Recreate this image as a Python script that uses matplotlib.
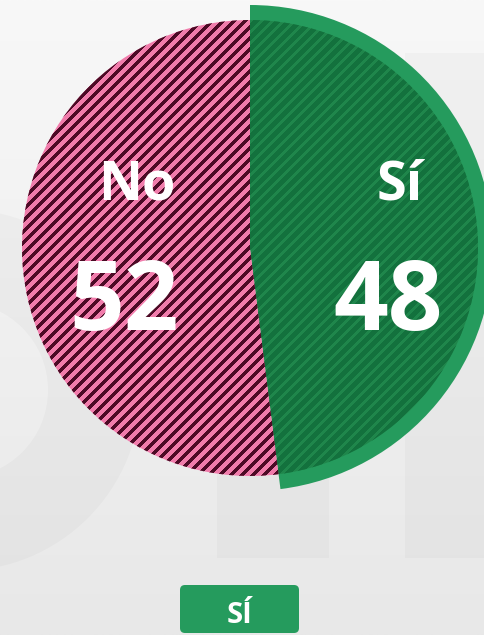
import matplotlib
matplotlib.use('Agg')
import matplotlib.pyplot as plt
import numpy as np
from matplotlib.patches import FancyBboxPatch, Rectangle, Annulus
from matplotlib.collections import LineCollection

# ---- data ----
categories = ['Sí', 'No']
values = [48, 52]
legend_label = 'SÍ'

# ---- styles ----
GREEN = '#259B5D'
GREEN_IN = '#1F864B'
GREEN_STRIPE = '#13713D'
PINK = '#F07CAB'
PINK_STRIPE = '#4C0A25'
FONT = ['Open Sans', 'DejaVu Sans']

W, H = 485, 635
fig = plt.figure(figsize=(W / 100, H / 100), dpi=100)

# background with gradient and faint watermark
ax_bg = fig.add_axes([0, 0, 1, 1])
grad = np.linspace(0, 1, 256).reshape(-1, 1)
top = np.array([248, 248, 248]) / 255
bot = np.array([232, 232, 232]) / 255
img = (top + (bot - top) * grad[..., None]).reshape(256, 1, 3)
ax_bg.imshow(img, extent=(0, W, H, 0), aspect='auto', interpolation='bilinear')
ax_bg.add_patch(Annulus((-40, 390), 181, 93, fc='black', alpha=0.025, lw=0))
ax_bg.add_patch(Rectangle((217, 53), 112, 505, fc='black', alpha=0.025, lw=0))
ax_bg.add_patch(Rectangle((405, 53), 90, 505, fc='black', alpha=0.025, lw=0))
ax_bg.set_xlim(0, W)
ax_bg.set_ylim(H, 0)
ax_bg.axis('off')

# pie axes in pixel units (y up)
cx, cy = 250, 248
ax = fig.add_axes([0, 0, 1, 1])
ax.patch.set_alpha(0)
outer, _ = ax.pie(values, radius=243, startangle=90, counterclock=False,
                  colors=[GREEN, 'none'], wedgeprops=dict(linewidth=0))
inner, _ = ax.pie(values, radius=228, startangle=90, counterclock=False,
                  colors=[GREEN_IN, PINK], wedgeprops=dict(linewidth=0))
ax.set_aspect('auto')
ax.set_xlim(-cx, W - cx)
ax.set_ylim(-(H - cy), cy)
ax.axis('off')

# overlay axes in pixel coords for stripes and text
ax_ov = fig.add_axes([0, 0, 1, 1])
ax_ov.patch.set_alpha(0)
ax_ov.set_xlim(0, W)
ax_ov.set_ylim(H, 0)
ax_ov.axis('off')

period = 11.0
cs = np.arange(-20, W + H + 20, period)
segs = [[(0, c), (W, c - W)] for c in cs]
for wedge, col, lw in [(inner[0], GREEN_STRIPE, 2.2), (inner[1], PINK_STRIPE, 1.9)]:
    lc = LineCollection(segs, colors=col, linewidths=lw, antialiased=False)
    ax_ov.add_collection(lc)
    lc.set_clip_path(wedge)

# labels
ax_ov.text(137, 200, categories[1], ha='center', va='baseline', fontsize=39,
           fontweight='bold', color='white', family=FONT)
ax_ov.text(124, 330, str(values[1]), ha='center', va='baseline', fontsize=69,
           fontweight='bold', color='white', family=FONT)
ax_ov.text(400, 200, categories[0], ha='center', va='baseline', fontsize=39,
           fontweight='bold', color='white', family=FONT)
ax_ov.text(388, 330, str(values[0]), ha='center', va='baseline', fontsize=69,
           fontweight='bold', color='white', family=FONT)

# legend box
ax_ov.add_patch(FancyBboxPatch((180, 585), 119, 48,
                               boxstyle='round,pad=0,rounding_size=5',
                               fc=GREEN, ec='none'))
ax_ov.text(240, 623, legend_label, ha='center', va='baseline', fontsize=21,
           fontweight='bold', color='white', family=FONT)

fig.savefig('out.png', dpi=100)
